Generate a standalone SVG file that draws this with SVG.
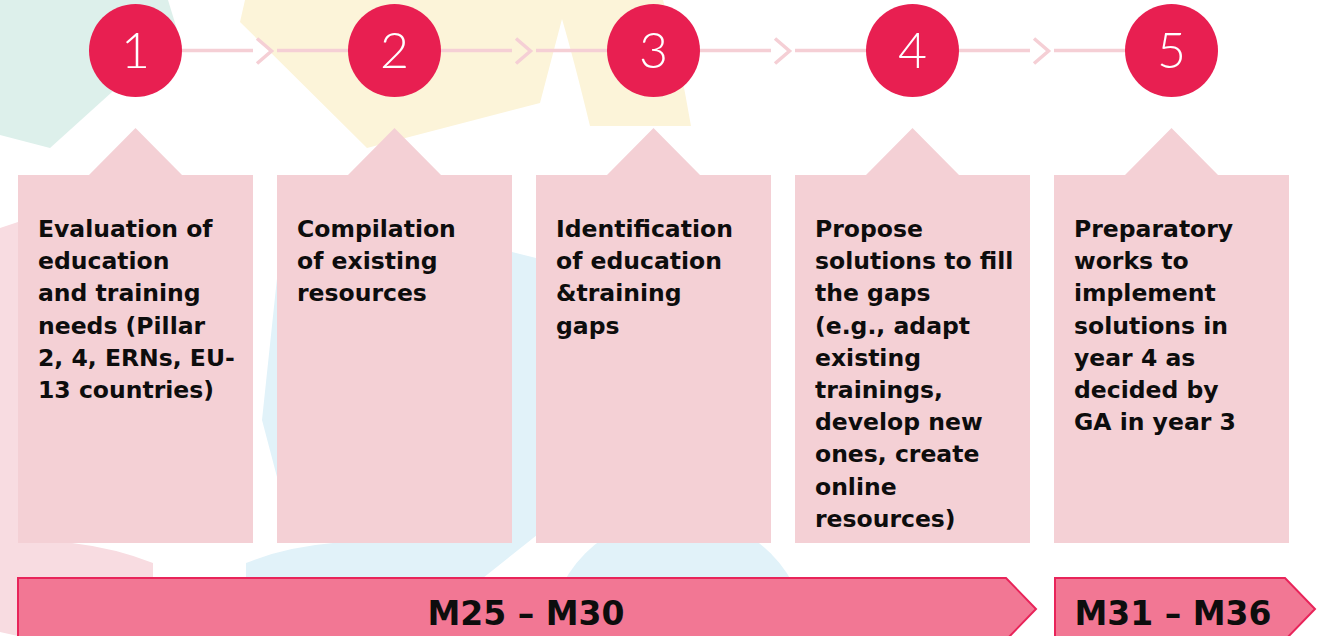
<svg xmlns="http://www.w3.org/2000/svg" width="1329" height="636" viewBox="0 0 1329 636">
  <defs>
    <style>
      .bg-teal{fill:#ddf0eb}
      .bg-yellow{fill:#fcf4d9}
      .bg-blue{fill:#e1f2f9}
      .bg-pink{fill:#f8dce1}
      .box{fill:#f4d0d5}
      .num-circle{fill:#e81f51}
      .num{fill:#ffffff;font-family:"Lato","Open Sans","DejaVu Sans",sans-serif;font-weight:300;font-size:50px;text-anchor:middle}
      .label{fill:#0d0d0d;font-family:"DejaVu Sans","Liberation Sans",sans-serif;font-weight:bold;font-size:23.5px}
      .conn{fill:none;stroke:#f5cfd5;stroke-width:3.5}
      .banner{fill:#f27794;stroke:#e8245a;stroke-width:2}
      .banner-text{fill:#0d0d0d;font-family:"DejaVu Sans","Liberation Sans",sans-serif;font-weight:bold;font-size:33px;text-anchor:middle}
    </style>
  </defs>
  <rect width="1329" height="636" fill="#ffffff"/>

  <g id="background">
    <path class="bg-teal" d="M0,0 H168 L179,36 L112,92 L50,148 L0,135 Z"/>
    <path class="bg-yellow" d="M245,0 H663 Q680,60 691,126 H590 Q574,60 562,19 L540,103 L367,148 L240,22 Z"/>
    <path class="bg-pink" d="M0,228 L18,222 L140,330 L72,543 Q115,548 153,563 V636 H18 L0,632 Z"/>
    <path class="bg-blue" d="M280,250 L512,252 L536,258 L650,300 L600,500 L537,535 L483,578 L246,578 L246,563 Q285,547 333,543 L294,543 L277,477 L262,420 Z"/>
    <circle class="bg-blue" cx="678" cy="646" r="131"/>
  </g>

  <g id="connectors">
    <path class="conn" d="M182,50.5 H253 M257,38.5 L271.5,51 L257,63.5 M277,50.5 H348"/>
    <path class="conn" d="M441,50.5 H512 M516,38.5 L530.5,51 L516,63.5 M536,50.5 H607"/>
    <path class="conn" d="M700,50.5 H771 M775,38.5 L789.5,51 L775,63.5 M795,50.5 H866"/>
    <path class="conn" d="M959,50.5 H1030 M1034,38.5 L1048.5,51 L1034,63.5 M1054,50.5 H1125"/>
  </g>

  <g id="step-1">
    <path class="box" d="M18,175 H89 L135.5,128 L182,175 H253 V543 H18 Z"/>
    <circle class="num-circle" cx="135.5" cy="50.5" r="46.5"/>
    <text class="num" x="135.5" y="68">1</text>
    <text class="label" x="38">
      <tspan x="38" y="237">Evaluation of</tspan>
      <tspan x="38" y="269.2">education</tspan>
      <tspan x="38" y="301.4">and training</tspan>
      <tspan x="38" y="333.6">needs (Pillar</tspan>
      <tspan x="38" y="365.8">2, 4, ERNs, EU-</tspan>
      <tspan x="38" y="398">13 countries)</tspan>
    </text>
  </g>

  <g id="step-2">
    <path class="box" d="M277,175 H348 L394.5,128 L441,175 H512 V543 H277 Z"/>
    <circle class="num-circle" cx="394.5" cy="50.5" r="46.5"/>
    <text class="num" x="394.5" y="68">2</text>
    <text class="label" x="297">
      <tspan x="297" y="237">Compilation</tspan>
      <tspan x="297" y="269.2">of existing</tspan>
      <tspan x="297" y="301.4">resources</tspan>
    </text>
  </g>

  <g id="step-3">
    <path class="box" d="M536,175 H607 L653.5,128 L700,175 H771 V543 H536 Z"/>
    <circle class="num-circle" cx="653.5" cy="50.5" r="46.5"/>
    <text class="num" x="653.5" y="68">3</text>
    <text class="label" x="556">
      <tspan x="556" y="237">Identification</tspan>
      <tspan x="556" y="269.2">of education</tspan>
      <tspan x="556" y="301.4">&amp;training</tspan>
      <tspan x="556" y="333.6">gaps</tspan>
    </text>
  </g>

  <g id="step-4">
    <path class="box" d="M795,175 H866 L912.5,128 L959,175 H1030 V543 H795 Z"/>
    <circle class="num-circle" cx="912.5" cy="50.5" r="46.5"/>
    <text class="num" x="912.5" y="68">4</text>
    <text class="label" x="815">
      <tspan x="815" y="237">Propose</tspan>
      <tspan x="815" y="269.2">solutions to fill</tspan>
      <tspan x="815" y="301.4">the gaps</tspan>
      <tspan x="815" y="333.6">(e.g., adapt</tspan>
      <tspan x="815" y="365.8">existing</tspan>
      <tspan x="815" y="398">trainings,</tspan>
      <tspan x="815" y="430.2">develop new</tspan>
      <tspan x="815" y="462.4">ones, create</tspan>
      <tspan x="815" y="494.6">online</tspan>
      <tspan x="815" y="526.8">resources)</tspan>
    </text>
  </g>

  <g id="step-5">
    <path class="box" d="M1054,175 H1125 L1171.5,128 L1218,175 H1289 V543 H1054 Z"/>
    <circle class="num-circle" cx="1171.5" cy="50.5" r="46.5"/>
    <text class="num" x="1171.5" y="68">5</text>
    <text class="label" x="1074">
      <tspan x="1074" y="237">Preparatory</tspan>
      <tspan x="1074" y="269.2">works to</tspan>
      <tspan x="1074" y="301.4">implement</tspan>
      <tspan x="1074" y="333.6">solutions in</tspan>
      <tspan x="1074" y="365.8">year 4 as</tspan>
      <tspan x="1074" y="398">decided by</tspan>
      <tspan x="1074" y="430.2">GA in year 3</tspan>
    </text>
  </g>

  <g id="period-m25-m30">
    <path class="banner" d="M18,578 H1006 L1036,609 L1006,640 H18 Z"/>
    <text class="banner-text" x="526" y="625">M25 – M30</text>
  </g>

  <g id="period-m31-m36">
    <path class="banner" d="M1055,578 H1285 L1315,609 L1285,640 H1055 Z"/>
    <text class="banner-text" x="1173" y="625">M31 – M36</text>
  </g>
</svg>
